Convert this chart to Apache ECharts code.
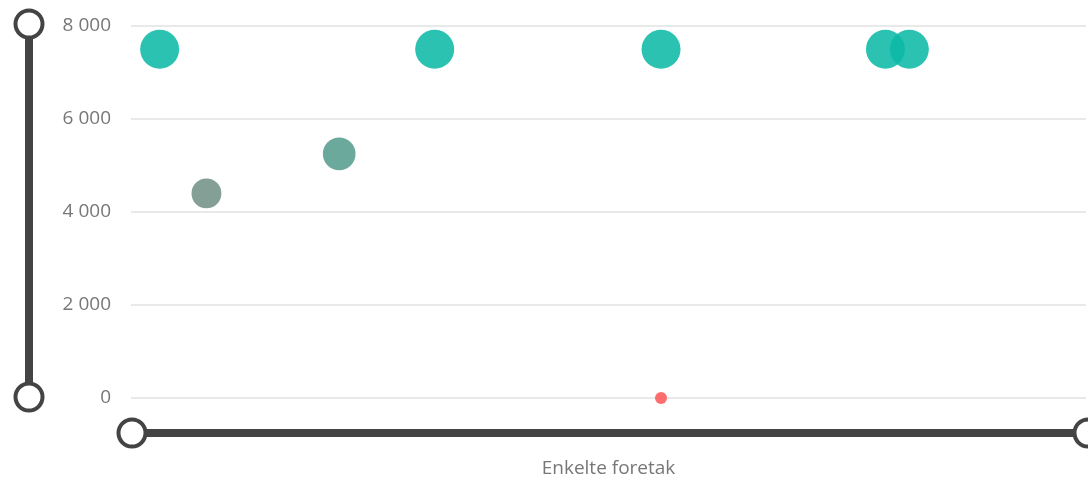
<!DOCTYPE html>
<html>
<head>
<meta charset="utf-8">
<script src="https://cdn.jsdelivr.net/npm/echarts@6/dist/echarts.min.js"></script>
<style>
html,body{margin:0;padding:0;background:#fff;}
#chart{width:1088px;height:481px;}
</style>
</head>
<body>
<div id="chart"></div>
<script>
// Data
const xValues = [3.0, 7.9, 21.8, 31.8, 55.5, 55.5, 79.0, 81.5];
const yValues = [7500, 4400, 5250, 7500, 7500, 0, 7500, 7500];
const yTicks = [0, 2000, 4000, 6000, 8000];
const xAxisName = 'Enkelte foretak';

const points = xValues.map((x, i) => [x, yValues[i]]);

function fmt(v) {
  return String(v).replace(/\B(?=(\d{3})+(?!\d))/g, ' ');
}

const chart = echarts.init(document.getElementById('chart'));
const handleStyle = { color: '#fff', borderColor: '#444', borderWidth: 4 };
const sliderCommon = {
  type: 'slider',
  showDataShadow: false,
  showDetail: false,
  brushSelect: false,
  backgroundColor: 'transparent',
  borderColor: 'transparent',
  fillerColor: '#444',
  handleIcon: 'circle',
  handleSize: 27,
  handleStyle: handleStyle,
  moveHandleSize: 0,
  moveHandleStyle: { opacity: 0 },
  emphasis: { handleStyle: handleStyle, moveHandleStyle: { opacity: 0 } },
  dataBackground: { lineStyle: { opacity: 0 }, areaStyle: { opacity: 0 } },
  selectedDataBackground: { lineStyle: { opacity: 0 }, areaStyle: { opacity: 0 } },
  textStyle: { color: 'transparent' }
};

chart.setOption({
  animation: false,
  grid: { left: 131, right: 2, top: 26, bottom: 83, containLabel: false, outerBoundsMode: 'none' },
  xAxis: {
    type: 'value',
    min: 0,
    max: 100,
    name: xAxisName,
    nameLocation: 'middle',
    nameGap: 61,
    nameTextStyle: { color: '#777', fontSize: 19, fontFamily: 'Open Sans' },
    axisLine: { show: false },
    axisTick: { show: false },
    axisLabel: { show: false },
    splitLine: { show: false }
  },
  yAxis: {
    type: 'value',
    min: yTicks[0],
    max: yTicks[yTicks.length - 1],
    interval: yTicks[1] - yTicks[0],
    axisLine: { show: false },
    axisTick: { show: false },
    axisLabel: {
      color: '#777',
      fontSize: 19,
      fontFamily: 'Open Sans',
      margin: 20,
      formatter: fmt
    },
    splitLine: { lineStyle: { color: '#e9e9e9', width: 2 } }
  },
  visualMap: {
    show: false,
    type: 'continuous',
    dimension: 1,
    min: 0,
    max: 7500,
    inRange: { color: ['#ff5a5a', '#0ebaa7'] }
  },
  dataZoom: [
    Object.assign({}, sliderCommon, {
      xAxisIndex: 0,
      left: 128,
      right: 2,
      bottom: 44,
      height: 8
    }),
    Object.assign({}, sliderCommon, {
      yAxisIndex: 0,
      orient: 'vertical',
      left: 23,
      width: 8,
      top: 23,
      bottom: 83
    })
  ],
  series: [{
    type: 'scatter',
    data: points,
    symbolSize: function (v) {
      return Math.max(12, 39 * Math.sqrt(v[1] / 7500));
    },
    itemStyle: { opacity: 0.88 }
  }]
});
</script>
</body>
</html>
